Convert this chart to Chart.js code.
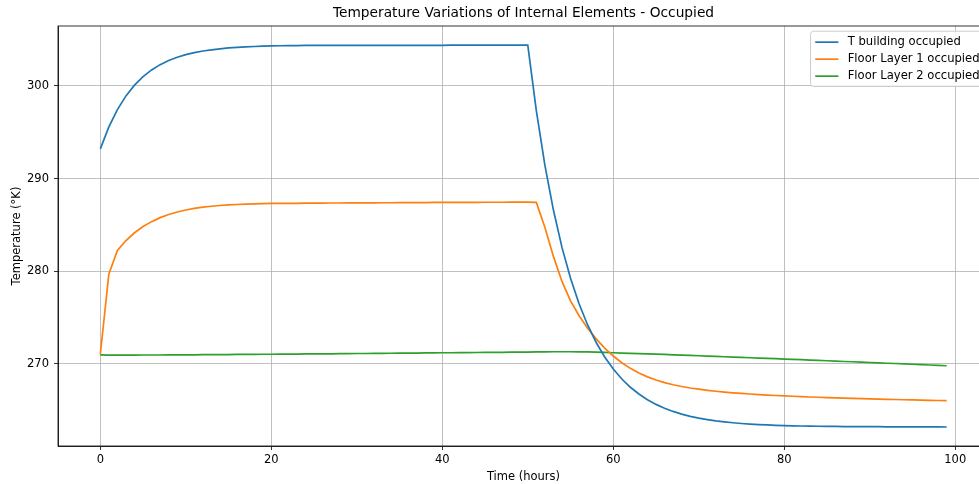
<!DOCTYPE html>
<html>
<head>
<meta charset="utf-8">
<script src="https://cdn.jsdelivr.net/npm/chart.js@4/dist/chart.umd.min.js"></script>
<style>
html,body{margin:0;padding:0;background:#fff;overflow:hidden;width:979px;height:484px;}
canvas{display:block;}
</style>
</head>
<body>
<canvas id="c" width="990" height="484"></canvas>
<script>
const hours = Array.from({length: 100}, (_, i) => i);

const tBuilding = [
293.20,295.57,297.44,298.92,300.08,301.00,301.72,302.29,302.73,303.09,
303.37,303.59,303.76,303.89,304.00,304.09,304.15,304.21,304.25,304.28,
304.31,304.33,304.34,304.35,304.36,304.37,304.37,304.37,304.37,304.37,
304.37,304.38,304.38,304.38,304.38,304.38,304.38,304.38,304.38,304.38,
304.38,304.39,304.39,304.39,304.39,304.39,304.39,304.39,304.40,304.40,
304.40,297.32,291.45,286.60,282.57,279.24,276.49,274.20,272.31,270.75,
269.45,268.37,267.48,266.75,266.14,265.63,265.21,264.87,264.58,264.34,
264.15,263.99,263.85,263.74,263.65,263.57,263.50,263.45,263.41,263.37,
263.34,263.32,263.30,263.28,263.27,263.26,263.25,263.24,263.23,263.23,
263.22,263.22,263.21,263.21,263.21,263.20,263.20,263.20,263.20,263.19
];

const floorLayer1 = [
271.05,279.70,282.25,283.31,284.15,284.82,285.35,285.78,286.12,286.39,
286.61,286.78,286.91,287.01,287.09,287.15,287.20,287.24,287.27,287.29,
287.31,287.32,287.33,287.33,287.34,287.35,287.35,287.36,287.36,287.37,
287.37,287.38,287.38,287.39,287.39,287.40,287.40,287.41,287.41,287.42,
287.42,287.42,287.43,287.43,287.43,287.44,287.44,287.44,287.45,287.45,
287.45,287.42,284.75,281.60,278.90,276.80,275.20,273.85,272.70,271.70,
270.85,270.12,269.52,269.02,268.60,268.26,267.98,267.75,267.56,267.40,
267.27,267.15,267.05,266.96,266.88,266.81,266.75,266.69,266.64,266.59,
266.55,266.51,266.47,266.43,266.40,266.37,266.34,266.31,266.28,266.25,
266.23,266.20,266.18,266.16,266.13,266.11,266.09,266.07,266.05,266.03
];

const floorLayer2 = [
270.97,270.95,270.95,270.95,270.95,270.96,270.96,270.96,270.97,270.97,
270.98,270.98,270.99,271.00,271.00,271.01,271.02,271.02,271.03,271.04,
271.04,271.05,271.06,271.06,271.07,271.08,271.09,271.09,271.10,271.11,
271.12,271.12,271.13,271.14,271.15,271.16,271.16,271.17,271.18,271.19,
271.20,271.20,271.21,271.22,271.23,271.24,271.25,271.25,271.26,271.27,
271.28,271.29,271.30,271.31,271.31,271.31,271.30,271.29,271.27,271.24,
271.20,271.17,271.14,271.11,271.08,271.05,271.02,270.98,270.95,270.91,
270.88,270.84,270.81,270.77,270.74,270.70,270.66,270.63,270.59,270.56,
270.52,270.48,270.45,270.41,270.38,270.34,270.30,270.26,270.23,270.19,
270.15,270.11,270.07,270.04,270.00,269.96,269.92,269.88,269.84,269.80
];

const seriesLabels = ['T building occupied', 'Floor Layer 1 occupied', 'Floor Layer 2 occupied'];
const seriesColors = ['#1f77b4', '#ff7f0e', '#2ca02c'];
const xTicks = [0, 20, 40, 60, 80, 100];
const yTicks = [270, 280, 290, 300];
const titleText = 'Temperature Variations of Internal Elements - Occupied';
const xLabel = 'Time (hours)';
const yLabel = 'Temperature (°K)';

const FONT = "'DejaVu Sans', sans-serif";
Chart.defaults.font.family = FONT;
Chart.defaults.color = '#000';

const toPts = arr => arr.map((v, i) => ({x: hours[i], y: v}));

const legendPlugin = {
  id: 'mplLegend',
  afterDraw(chart) {
    const ctx = chart.ctx;
    const ca = chart.chartArea;
    const fs = 11.6;
    ctx.save();
    ctx.font = fs + 'px ' + FONT;
    const ds = chart.data.datasets;
    let maxW = 0;
    ds.forEach(d => { maxW = Math.max(maxW, ctx.measureText(d.label).width); });
    const pad = 0.4 * fs, handle = 2.0 * fs, hpad = 0.8 * fs, rowH = 17;
    const w = pad + handle + hpad + maxW + pad - 1;
    const h = pad * 2 + rowH * ds.length - 5;
    const right = ca.right - 0.5 * fs;
    const left = right - w;
    const top = ca.top + 0.45 * fs;
    const r = 3;
    ctx.beginPath();
    ctx.moveTo(left + r, top);
    ctx.lineTo(right - r, top);
    ctx.quadraticCurveTo(right, top, right, top + r);
    ctx.lineTo(right, top + h - r);
    ctx.quadraticCurveTo(right, top + h, right - r, top + h);
    ctx.lineTo(left + r, top + h);
    ctx.quadraticCurveTo(left, top + h, left, top + h - r);
    ctx.lineTo(left, top + r);
    ctx.quadraticCurveTo(left, top, left + r, top);
    ctx.closePath();
    ctx.fillStyle = 'rgba(255,255,255,0.8)';
    ctx.fill();
    ctx.strokeStyle = '#cccccc';
    ctx.lineWidth = 1;
    ctx.stroke();
    ds.forEach((d, i) => {
      const y = top + pad + 6.3 + i * rowH;
      ctx.beginPath();
      ctx.moveTo(left + pad, y);
      ctx.lineTo(left + pad + handle, y);
      ctx.strokeStyle = d.borderColor;
      ctx.lineWidth = 1.7;
      ctx.stroke();
      ctx.fillStyle = '#000';
      ctx.textBaseline = 'middle';
      ctx.textAlign = 'left';
      ctx.fillText(d.label, left + pad + handle + hpad, y);
    });
    ctx.restore();
  }
};

const frameTicks = {
  id: 'frame',
  afterDatasetsDraw(chart) {
    const ctx = chart.ctx, ca = chart.chartArea;
    ctx.save();
    ctx.strokeStyle = '#000';
    ctx.lineWidth = 0.8;
    ctx.strokeRect(ca.left, ca.top, ca.right - ca.left, ca.bottom - ca.top);
    ctx.restore();
  }
};

new Chart(document.getElementById('c'), {
  type: 'line',
  data: {
    datasets: [
      {label: seriesLabels[0], data: toPts(tBuilding), borderColor: seriesColors[0]},
      {label: seriesLabels[1], data: toPts(floorLayer1), borderColor: seriesColors[1]},
      {label: seriesLabels[2], data: toPts(floorLayer2), borderColor: seriesColors[2]}
    ].map(d => Object.assign(d, {borderWidth: 1.7, pointRadius: 0, tension: 0, fill: false, backgroundColor: d.borderColor}))
  },
  options: {
    responsive: false,
    animation: false,
    events: [],
    layout: {padding: {left: 0, right: 1, top: 0, bottom: 0}},
    plugins: {
      legend: {display: false},
      tooltip: {enabled: false},
      title: {
        display: true,
        text: titleText,
        fullSize: false,
        font: {size: 13.75, weight: 'normal', family: FONT},
        color: '#000',
        padding: {top: 5, bottom: 4.5}
      }
    },
    scales: {
      x: {
        type: 'linear',
        min: -4.95,
        max: 103.95,
        afterBuildTicks: s => { s.ticks = xTicks.map(v => ({value: v})); },
        afterFit: s => { s.height = 38; },
        grid: {color: '#b0b0b0', lineWidth: 0.8, tickColor: '#000', tickLength: 4, drawOnChartArea: true},
        border: {display: true, color: '#000', width: 0.8},
        ticks: {font: {size: 11.5}, color: '#000', padding: 3, maxRotation: 0},
        title: {display: true, text: xLabel, font: {size: 11.5}, color: '#000', padding: {top: 0, bottom: 0}}
      },
      y: {
        type: 'linear',
        min: 261.14,
        max: 306.46,
        afterBuildTicks: s => { s.ticks = yTicks.map(v => ({value: v})); },
        afterFit: s => { s.width = 58; },
        grid: {color: '#b0b0b0', lineWidth: 0.8, tickColor: '#000', tickLength: 4},
        border: {display: true, color: '#000', width: 0.8},
        ticks: {font: {size: 11.5}, color: '#000', padding: 5},
        title: {display: true, text: yLabel, font: {size: 11.5}, color: '#000', padding: {top: 10, bottom: 0}}
      }
    }
  },
  plugins: [legendPlugin, frameTicks]
});
</script>
</body>
</html>
